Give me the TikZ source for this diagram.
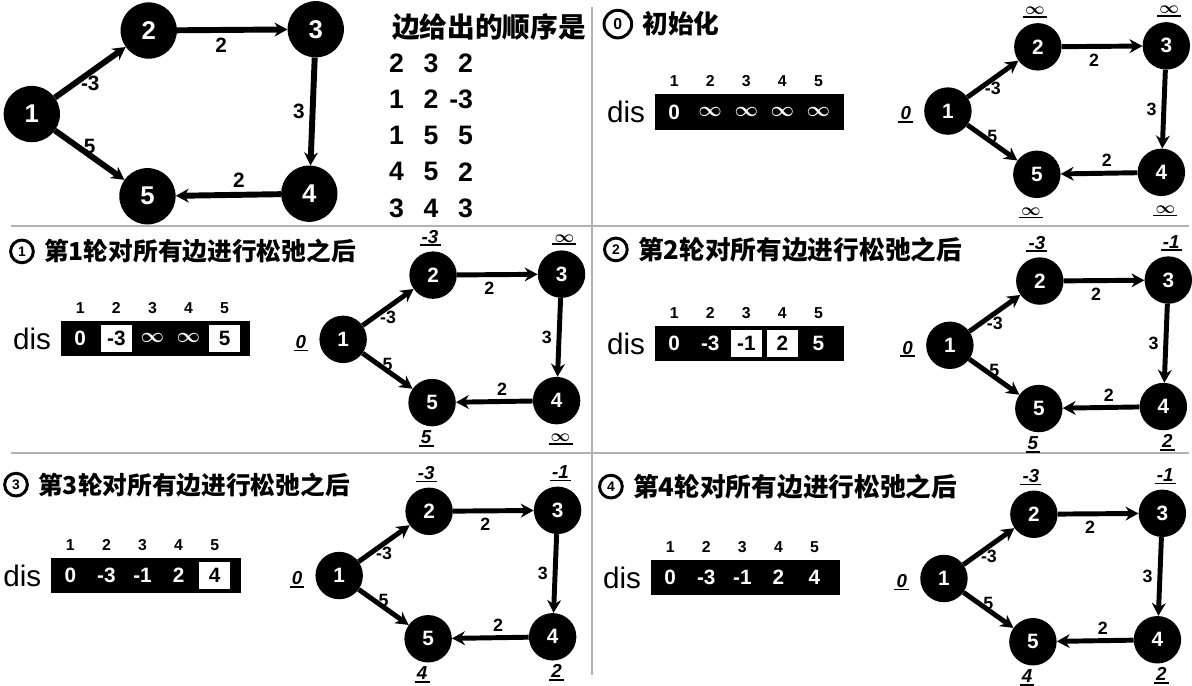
\documentclass[tikz,border=0pt]{standalone}
\usepackage{fontspec}
\usepackage{bm}
\setmainfont{Liberation Sans}
\newfontfamily\cjk{Noto Sans CJK SC}
\usetikzlibrary{arrows.meta,positioning}

\newcommand\fsz[1]{\fontsize{#1}{#1}\selectfont}

% the five vertices and their edges, #1 prefix, #2 scope options
\newcommand\bfgraph[2]{%
\begin{scope}[#2]
	\node [vtx] (#1-1) at (0,0) {1};
	\node [vtx] (#1-2) at (91,-65) {2};
	\node [vtx] (#1-3) at (221,-66) {3};
	\node [vtx] (#1-4) at (216,62) {4};
	\node [vtx] (#1-5) at (90,64) {5};
	\draw [link] (#1-1) -- node [wlab,below=0pt] {-3} (#1-2);
	\draw [link] (#1-1) -- node [wlab,above=-3pt] {5} (#1-5);
	\draw [link] (#1-2) -- node [wlab,pos=.4,below=4pt] {2} (#1-3);
	\draw [link] (#1-3) -- node [wlab,left=4pt] {3} (#1-4);
	\draw [link] (#1-4) -- node [wlab,pos=.4,above=3pt] {2} (#1-5);
\end{scope}}

% dis values beside the vertices
\newcommand\bfdist[5]{%
	\node [dist,left=11pt of #1-1,yshift=-3pt] (#1-l1) {0};
	\node [dist,above=6pt of #1-2,xshift=-3pt] (#1-l2) {#2};
	\node [dist,above=6pt of #1-3,xshift=3pt] (#1-l3) {#3};
	\node [dist,below=3pt of #1-4,xshift=4pt] (#1-l4) {#4};
	\node [dist,below=3pt of #1-5,xshift=-6pt] (#1-l5) {#5};}

% the dis array, #1 prefix, #2 left, #3 middle, #4 value/style
\newcommand\disrow[4]{%
	\node [disbox] (#1-box) at (#2,#3) {};
	\node [font=\fsz{30},anchor=base east] (#1-dis) at (#2-6,#3+11) {dis};
	\foreach \v/\s [count=\i] in {#4} {
		\node [\s] (#1-c\i) at ({#2+20+36.5*(\i-1)},#3) {\v};
		\node [hdr] (#1-h\i) at ({#2+20+36.5*(\i-1)},#3-31) {\i};
	}}

\newcommand\infv{$\bm\infty$}

\begin{document}
\begin{tikzpicture}[x=1pt,y=-1pt,
	vtx/.style={circle,fill=black,text=white,minimum size=48pt,inner sep=0pt,font=\bfseries\fsz{21}},
	link/.style={line width=5pt,-{Stealth[length=13pt,width=14pt]}},
	wlab/.style={inner sep=1pt,font=\bfseries\fsz{18}},
	dist/.style={inner sep=2pt,text height=12pt,text depth=0pt,font=\bfseries\itshape\fsz{19},append after command={(\tikzlastnode.south west) edge [line width=1.8pt] (\tikzlastnode.south east)}},
	disbox/.style={fill=black,minimum width=192pt,minimum height=36pt,inner sep=0pt,anchor=west},
	cellb/.style={text=white,inner sep=0pt,font=\bfseries\fsz{21}},
	cellw/.style={fill=white,text=black,minimum width=32pt,minimum height=27pt,inner sep=0pt,font=\bfseries\fsz{21}},
	hdr/.style={font=\bfseries\fsz{16}},
	ring/.style={circle,draw,line width=3pt,minimum size=23pt,inner sep=0pt,font=\bfseries\fsz{14}},
	ttl/.style={font=\cjk\bfseries\fsz{25}},
	lst/.style={font=\bfseries\fsz{27}},
	divider/.style={draw=black!30,line width=2pt}]
	\fill [white] (0,0) rectangle (1192,676);
	\draw [divider] (588,0) -- (588,676);
	\draw [divider] (0,221) -- (1192,221);
	\draw [divider] (0,451) -- (1192,451);

	% the graph and the order of its edges
	\bfgraph{g}{shift={(21,108)},scale=1.3,vtx/.append style={minimum size=57pt,font=\bfseries\fsz{26}},link/.append style={line width=6pt},wlab/.append style={font=\bfseries\fsz{21}}}
	\node [font=\cjk\bfseries\fsz{28},anchor=west] (order) at (382,20) {边给出的顺序是};
	\foreach \a/\b/\c [count=\r] in {2/3/2,1/2/-3,1/5/5,4/5/2,3/4/3} {
		\node [lst] (e\r-a) at (390,20+36.6*\r) {\a};
		\node [lst] (e\r-b) at (425,20+36.6*\r) {\b};
		\node [lst,anchor=east] (e\r-c) at (471,20+36.6*\r) {\c};
	}

	% 0: start
	\node [ring,minimum size=28pt,font=\bfseries\fsz{16}] (t0) at (614,17) {0};
	\node [ttl,font=\cjk\bfseries\fsz{26},right=6pt of t0] (t0-txt) {初始化};
	\disrow{d0}{651}{106}{0/cellb,\infv/cellb,\infv/cellb,\infv/cellb,\infv/cellb}
	\bfgraph{p0}{shift={(948,105)}}
	\bfdist{p0}{\infv}{\infv}{\infv}{\infv}

	% 1
	\node [ring] (t1) at (11,247) {1};
	\node [ttl,right=6pt of t1] (t1-txt) {第1轮对所有边进行松弛之后};
	\disrow{d1}{50}{335}{0/cellb,-3/cellw,\infv/cellb,\infv/cellb,5/cellw}
	\bfgraph{p1}{shift={(336,336)}}
	\bfdist{p1}{-3}{\infv}{\infv}{5}

	% 2
	\node [ring] (t2) at (612,245) {2};
	\node [ttl,font=\cjk\bfseries\fsz{26},right=6pt of t2] (t2-txt) {第2轮对所有边进行松弛之后};
	\disrow{d2}{651}{340}{0/cellb,-3/cellb,-1/cellw,2/cellw,5/cellb}
	\bfgraph{p2}{shift={(950,342)}}
	\bfdist{p2}{-3}{-1}{2}{5}

	% 3
	\node [ring] (t3) at (5,483) {3};
	\node [ttl,right=6pt of t3] (t3-txt) {第3轮对所有边进行松弛之后};
	\disrow{d3}{40}{575}{0/cellb,-3/cellb,-1/cellb,2/cellb,4/cellw}
	\bfgraph{p3}{shift={(332,575)}}
	\bfdist{p3}{-3}{-1}{2}{4}

	% 4
	\node [ring] (t4) at (607,485) {4};
	\node [ttl,font=\cjk\bfseries\fsz{26},right=6pt of t4] (t4-txt) {第4轮对所有边进行松弛之后};
	\disrow{d4}{647}{577}{0/cellb,-3/cellb,-1/cellb,2/cellb,4/cellb}
	\bfgraph{p4}{shift={(944,578)}}
	\bfdist{p4}{-3}{-1}{2}{4}
\end{tikzpicture}
\end{document}
